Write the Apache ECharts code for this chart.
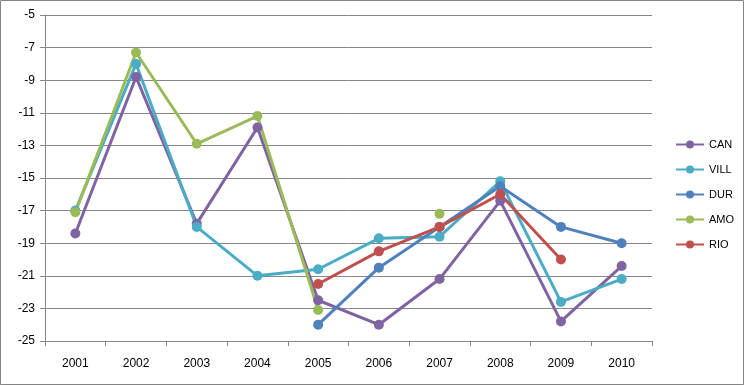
<!DOCTYPE html>
<html><head><meta charset="utf-8">
<script src="https://cdn.jsdelivr.net/npm/echarts@6/dist/echarts.min.js"></script>
<style>html,body{margin:0;padding:0;background:#fff}#c{width:745px;height:386px}</style>
</head><body><div id="c"></div>
<script>
var categories = ['2001','2002','2003','2004','2005','2006','2007','2008','2009','2010'];
var CAN  = [-18.4, -8.8, -17.8, -11.9, -22.5, -24.0, -21.2, -16.4, -23.8, -20.4];
var VILL = [-17.0, -8.0, -18.0, -21.0, -20.6, -18.7, -18.6, -15.2, -22.6, -21.2];
var DUR  = [null, null, null, null, -24.0, -20.5, -18.0, -15.5, -18.0, -19.0];
var AMO  = [-17.1, -7.3, -12.9, -11.2, -23.1, null, -17.2, null, null, null];
var RIO  = [null, null, null, null, -21.5, -19.5, -18.0, -16.0, -20.0, null];
var seriesNames = ['CAN','VILL','DUR','AMO','RIO'];
var seriesData = [CAN, VILL, DUR, AMO, RIO];
var colors = ['#8064A2','#4BACC6','#4F81BD','#9BBB59','#C0504D'];

var chart = echarts.init(document.getElementById('c'));
var font = 'Liberation Sans, Arial, sans-serif';
chart.setOption({
  animation: false,
  color: colors,
  graphic: [{type:'rect', shape:{x:0.5,y:0.5,width:743,height:384}, style:{fill:'none', stroke:'#868686', lineWidth:1}, silent:true}],
  grid: {left:45, right:93, top:15, bottom:45, containLabel:false},
  legend: {
    orient:'vertical', left:670, top:134, itemWidth:28, itemHeight:10, itemGap:14,
    textStyle:{fontFamily:font, fontSize:11, color:'#000'},
    data: seriesNames
  },
  xAxis: {
    type:'category', data: categories, boundaryGap:true,
    axisLine:{lineStyle:{color:'#868686', width:1}},
    axisTick:{show:true, length:5, lineStyle:{color:'#868686'}},
    axisLabel:{fontFamily:font, fontSize:12, color:'#000', margin:17},
    splitLine:{show:false}
  },
  yAxis: {
    type:'value', min:-25, max:-5, interval:2,
    axisLine:{show:true, lineStyle:{color:'#868686', width:1}},
    axisTick:{show:true, length:5, inside:false, lineStyle:{color:'#868686'}},
    axisLabel:{fontFamily:font, fontSize:12, color:'#000', margin:10},
    splitLine:{show:true, lineStyle:{color:'#868686', width:1}}
  },
  series: seriesData.map(function(d, i){
    return {
      name: seriesNames[i], type:'line', data:d, connectNulls:false,
      symbol:'circle', symbolSize:10,
      lineStyle:{width:3, color:colors[i]},
      itemStyle:{color:colors[i]}
    };
  })
});
</script></body></html>
